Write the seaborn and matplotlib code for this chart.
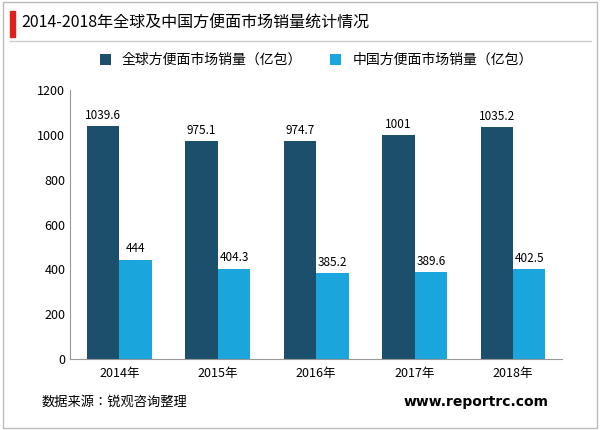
import pandas as pd
import matplotlib.pyplot as plt
import seaborn as sns
from matplotlib.patches import Rectangle
from matplotlib import font_manager

cjk = [f.name for f in font_manager.fontManager.ttflist if 'CJK' in f.name]
print(sorted(set(cjk)))
plt.rcParams['font.family'] = ['Noto Sans CJK SC', 'Noto Sans CJK JP', 'Noto Sans CJK TC',
                               'Noto Sans CJK KR', 'DejaVu Sans']

years = ['2014年', '2015年', '2016年', '2017年', '2018年']
global_sales = [1039.6, 975.1, 974.7, 1001, 1035.2]
china_sales = [444, 404.3, 385.2, 389.6, 402.5]
series_names = ['全球方便面市场销量（亿包）', '中国方便面市场销量（亿包）']
value_labels = ['1039.6', '975.1', '974.7', '1001', '1035.2', '444', '404.3', '385.2', '389.6', '402.5']

df = pd.DataFrame({
    'year': years * 2,
    'value': global_sales + china_sales,
    'series': [series_names[0]] * 5 + [series_names[1]] * 5,
})

fig = plt.figure(figsize=(6, 4.3), dpi=100)
ax = fig.add_axes([0.117, 0.165, 0.82, 0.625])

sns.barplot(data=df, x='year', y='value', hue='series',
            palette=['#1b4f6b', '#1aa5dc'], width=0.66, gap=0.0,
            saturation=1, ax=ax)

for cont, labels in zip(ax.containers, [value_labels[:5], value_labels[5:]]):
    ax.bar_label(cont, labels=labels, padding=3, fontsize=8.5)

ax.set_ylim(0, 1200)
ax.set_yticks(range(0, 1201, 200))
ax.set_xlabel('')
ax.set_ylabel('')
ax.tick_params(axis='both', labelsize=9, length=0)
ax.tick_params(axis='x', pad=6)
for s in ['top', 'right']:
    ax.spines[s].set_visible(False)
ax.spines['left'].set_color('#999999')
ax.spines['bottom'].set_color('#999999')

ax.legend(loc='lower center', bbox_to_anchor=(0.5, 1.04), ncol=2, frameon=False,
          fontsize=10, handlelength=0.8, handleheight=0.8, columnspacing=2)

# frame, title bar
fig.patches.append(Rectangle((0.005, 0.005), 0.99, 0.99, transform=fig.transFigure,
                             fill=False, edgecolor='#bbbbbb', linewidth=1))
fig.patches.append(Rectangle((0.017, 0.915), 0.008, 0.06, transform=fig.transFigure,
                             color='#e0201b'))
fig.lines.append(plt.Line2D([0.017, 0.985], [0.905, 0.905], transform=fig.transFigure,
                            color='#cccccc', linewidth=1))
fig.text(0.035, 0.945, '2014-2018年全球及中国方便面市场销量统计情况', fontsize=11.5,
         va='center', ha='left')
fig.text(0.07, 0.065, '数据来源：锐观咨询整理', fontsize=9.5, va='center')
fig.text(0.915, 0.065, 'www.reportrc.com', fontsize=10, fontweight='bold',
         va='center', ha='right', family='DejaVu Sans')

fig.savefig('out.png', dpi=100)
